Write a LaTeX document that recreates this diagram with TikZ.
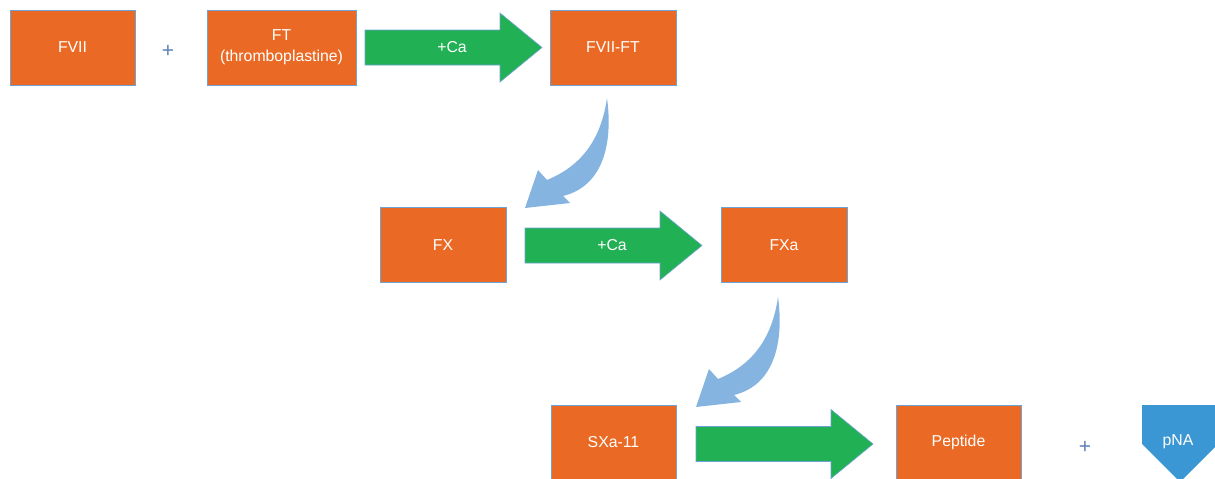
\documentclass[tikz,border=0pt]{standalone}
\usepackage{fontspec}
\setmainfont{Liberation Sans}
\definecolor{boxorange}{HTML}{EA6A25}
\definecolor{boxedge}{HTML}{6FA3D6}
\definecolor{arrgreen}{HTML}{22B055}
\definecolor{curveblue}{HTML}{86B4E0}
\definecolor{pnablue}{HTML}{3A97D3}
\definecolor{plusblue}{HTML}{5B80B8}
\tikzset{
  box/.style={rectangle, fill=boxorange, draw=boxedge, line width=0.8pt,
    minimum height=75pt, text=white, font=\fontsize{15.8}{21}\selectfont,
    align=center, inner sep=0pt},
  lbl/.style={text=white, font=\fontsize{15.8}{18}\selectfont, inner sep=0pt},
  plussign/.style={text=plusblue, font=\fontsize{21}{22}\selectfont, inner sep=0pt},
  garrowstyle/.style={fill=arrgreen, draw=boxedge, line width=0.6pt},
  curvestyle/.style={fill=curveblue},
  pics/garrow/.style={code={
    \path[garrowstyle] (0,-17.5) -- (135,-17.5) -- (135,-34.5) -- (177,0)
      -- (135,34.5) -- (135,17.5) -- (0,17.5) -- cycle;
  }},
  pics/curvearrow/.style={code={
    \path[curvestyle] (0,0) .. controls (-6,42) and (-26,68) .. (-60,82)
      -- (-69,72) -- (-82,110) -- (-37,105) -- (-44,98)
      .. controls (-3,88) and (6,44) .. (0,0) -- cycle;
  }}
}
\begin{document}
\begin{tikzpicture}[x=1pt,y=-1pt]
\useasboundingbox (0,0) rectangle (1215,479);
\clip (0,0) rectangle (1215,479);
% row 1
\node[box, minimum width=125pt] (fvii) at (72.5,47.5) {FVII};
\node[plussign] (plus1) at (168,51) {+};
\node[box, minimum width=149pt] (ft) at (281.5,47.5) {FT\\(thromboplastine)};
\pic at (365,47.5) {garrow};
\node[lbl] (ca1) at (452,47.5) {+Ca};
\node[box, minimum width=126pt] (fviift) at (613,47.5) {FVII-FT};
% curved arrow 1
\pic at (607,98) {curvearrow};
% row 2
\node[box, minimum width=126pt] (fx) at (443,245) {FX};
\pic at (525,245.5) {garrow};
\node[lbl] (ca2) at (612,245) {+Ca};
\node[box, minimum width=126pt] (fxa) at (784,245) {FXa};
% curved arrow 2
\pic at (778,297) {curvearrow};
% row 3
\node[box, minimum width=125pt] (sxa) at (613.5,442.5) {SXa-11};
\pic at (696,444) {garrow};
\node[box, minimum width=125pt] (pep) at (958.5,442.5) {Peptide};
\node[plussign] (plus2) at (1085,447) {+};
\path[fill=pnablue] (1142,405) -- (1218,405) -- (1218,444) -- (1180,482)
  -- (1142,444) -- cycle;
\node[lbl] (pna) at (1178,442) {pNA};
\end{tikzpicture}
\end{document}
